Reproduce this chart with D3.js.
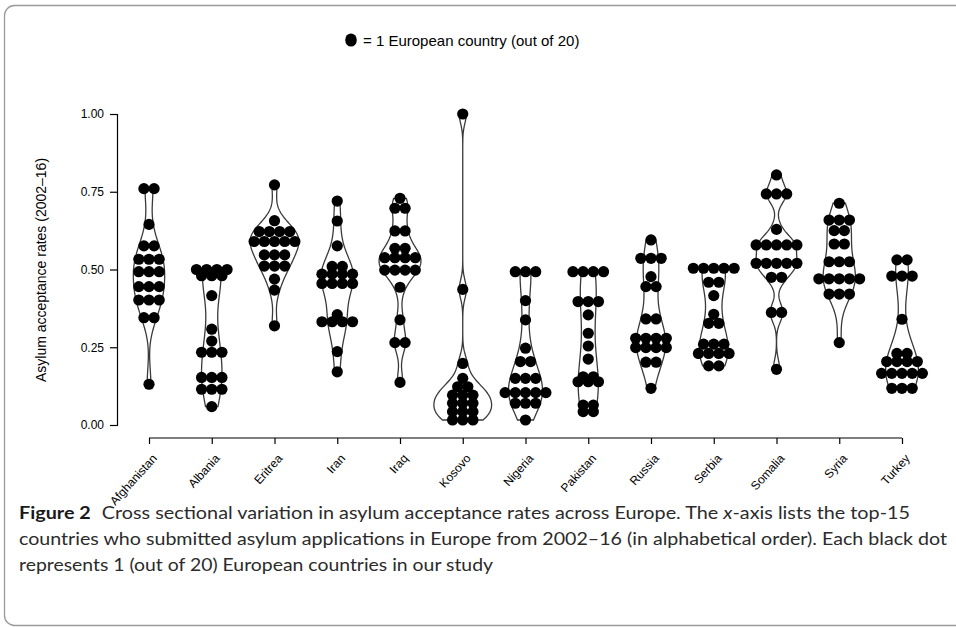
<!DOCTYPE html>
<html><head><meta charset="utf-8">
<script src="https://cdn.jsdelivr.net/npm/d3@7"></script>
<style>body{margin:0;background:#fff}svg{display:block}</style>
</head><body>
<svg id="chart" width="956" height="627"></svg>
<script>
const categories = ["Afghanistan","Albania","Eritrea","Iran","Iraq","Kosovo","Nigeria","Pakistan","Russia","Serbia","Somalia","Syria","Turkey"];
const afghanistan = [0.76,0.76,0.645,0.576,0.576,0.533,0.533,0.533,0.493,0.493,0.493,0.445,0.445,0.445,0.402,0.402,0.402,0.345,0.345,0.131];
const albania = [0.48,0.48,0.48,0.50,0.50,0.50,0.50,0.416,0.308,0.27,0.234,0.234,0.234,0.153,0.153,0.153,0.115,0.115,0.115,0.059];
const eritrea = [0.772,0.657,0.622,0.622,0.622,0.622,0.59,0.59,0.59,0.59,0.59,0.547,0.547,0.547,0.511,0.511,0.511,0.469,0.434,0.319];
const iran = [0.72,0.656,0.576,0.51,0.51,0.485,0.485,0.485,0.485,0.455,0.455,0.455,0.455,0.355,0.332,0.332,0.332,0.332,0.236,0.171];
const iraq = [0.729,0.697,0.697,0.624,0.624,0.568,0.568,0.538,0.538,0.538,0.538,0.498,0.498,0.498,0.498,0.443,0.338,0.265,0.265,0.137];
const kosovo = [1.0,0.436,0.198,0.15,0.123,0.123,0.096,0.096,0.096,0.07,0.07,0.07,0.043,0.043,0.043,0.016,0.016,0.016];
const nigeria = [0.493,0.493,0.493,0.4,0.338,0.247,0.204,0.204,0.15,0.15,0.15,0.104,0.104,0.104,0.104,0.104,0.07,0.07,0.07,0.016];
const pakistan = [0.493,0.493,0.493,0.493,0.397,0.397,0.397,0.354,0.295,0.254,0.212,0.155,0.155,0.139,0.139,0.139,0.064,0.064,0.043,0.043];
const russia = [0.595,0.536,0.536,0.536,0.477,0.445,0.445,0.341,0.341,0.279,0.279,0.279,0.279,0.249,0.249,0.249,0.249,0.202,0.202,0.118];
const serbia = [0.504,0.504,0.504,0.504,0.504,0.459,0.459,0.416,0.356,0.327,0.327,0.26,0.26,0.26,0.23,0.23,0.23,0.23,0.19,0.19];
const somalia = [0.804,0.743,0.743,0.743,0.629,0.579,0.579,0.579,0.579,0.579,0.52,0.52,0.52,0.52,0.52,0.475,0.475,0.362,0.362,0.179];
const syria = [0.713,0.659,0.659,0.659,0.625,0.625,0.582,0.582,0.525,0.525,0.525,0.47,0.47,0.47,0.47,0.47,0.421,0.421,0.421,0.265];
const turkey = [0.531,0.531,0.479,0.479,0.479,0.34,0.23,0.23,0.204,0.204,0.204,0.204,0.166,0.166,0.166,0.166,0.166,0.118,0.118,0.118];
const seriesValues = [afghanistan,albania,eritrea,iran,iraq,kosovo,nigeria,pakistan,russia,serbia,somalia,syria,turkey];
const yTicks = [0,0.25,0.5,0.75,1];

const svg = d3.select("#chart");
const FONT = "'Liberation Sans', Arial, Helvetica, sans-serif";

// frame
svg.append("rect").attr("x",4.5).attr("y",5.5).attr("width",1000).attr("height",620)
  .attr("rx",10).attr("fill","none").attr("stroke","#9a9a9a").attr("stroke-width",1.3);

const x = d3.scalePoint().domain(categories).range([149,902]);
const y = d3.scaleLinear().domain([0,1]).range([425,114]);
const step = x.step();

// KDE (gaussian, nrd0 bandwidth), trimmed to data range
function nrd0(v){
  const s = d3.deviation(v);
  const iqr = d3.quantile(v,0.75)-d3.quantile(v,0.25);
  let lo = Math.min(s, iqr/1.34);
  if(!(lo>0)) lo = s || Math.abs(v[0]) || 1;
  return 0.9*lo*Math.pow(v.length,-0.2);
}
const dens = seriesValues.map(v=>{
  const s = v.slice().sort(d3.ascending);
  const bw = nrd0(s);
  const lo = s[0], hi = s[s.length-1];
  const n = 200;
  return d3.range(n+1).map(i=>{
    const t = lo + (hi-lo)*i/n;
    const d = d3.mean(s, xi=>Math.exp(-0.5*((t-xi)/bw)**2))/(bw*Math.sqrt(2*Math.PI));
    return [t,d];
  });
});
const maxD = d3.max(dens, p=>d3.max(p, q=>q[1]));
const wScale = d3.scaleLinear().domain([0,maxD]).range([0, step*0.46]);

const gV = svg.append("g");
dens.forEach((pts,i)=>{
  const cx = x(categories[i]);
  const right = pts.map(p=>[cx+wScale(p[1]), y(p[0])]);
  const left = pts.slice().reverse().map(p=>[cx-wScale(p[1]), y(p[0])]);
  gV.append("path").attr("d", d3.line()(right.concat(left))+"Z")
    .attr("fill","none").attr("stroke","#3a3a3a").attr("stroke-width",1.3);
});

// dots (centered stacks)
const gD = svg.append("g");
const dotSp = 10.2, r = 5.6;
seriesValues.forEach((v,i)=>{
  const cx = x(categories[i]);
  d3.groups(v, d=>d).forEach(([val, arr])=>{
    arr.forEach((_,k)=>{
      gD.append("circle").attr("cx", cx + (k-(arr.length-1)/2)*dotSp).attr("cy", y(val))
        .attr("r", r).attr("fill","#000");
    });
  });
});

// y axis
const yAxis = svg.append("g").attr("transform","translate(117,0)")
  .call(d3.axisLeft(y).tickValues(yTicks).tickFormat(d3.format(".2f")).tickSizeOuter(0).tickSize(7).tickPadding(6));
yAxis.selectAll("path,line").attr("stroke","#000").attr("stroke-width",1.2);
yAxis.selectAll("text").attr("font-family",FONT).attr("font-size",12).attr("fill","#000");
svg.append("text").attr("transform","translate(46,270) rotate(-90)").attr("text-anchor","middle")
  .attr("font-family",FONT).attr("font-size",14).text("Asylum acceptance rates (2002–16)");

// x axis
const xAxis = svg.append("g").attr("transform","translate(0,438)")
  .call(d3.axisBottom(x).tickSizeOuter(0).tickSize(6));
xAxis.select("path").attr("d", `M${x.range()[0]},0H${x.range()[1]}`);
xAxis.selectAll("path,line").attr("stroke","#000").attr("stroke-width",1.2);
xAxis.selectAll("text").attr("font-family",FONT).attr("font-size",12).attr("fill","#000")
  .attr("text-anchor","end").attr("y",0).attr("dy","0.35em").attr("dx",0)
  .attr("transform","translate(5,18) rotate(-48)");

// legend
svg.append("ellipse").attr("cx",351).attr("cy",40).attr("rx",5.8).attr("ry",6.6).attr("fill","#000");
svg.append("text").attr("x",363).attr("y",45.5).attr("font-family",FONT).attr("font-size",15)
  .text("= 1 European country (out of 20)");

// caption
const CF = "Lato, 'Open Sans', sans-serif";
const c1 = svg.append("text").attr("x",19).attr("y",519).attr("font-family",CF).attr("font-size",16.5)
  .attr("fill","#2b2b2b").attr("textLength",891).attr("lengthAdjust","spacingAndGlyphs");
c1.append("tspan").attr("font-weight","bold").attr("fill","#1a1a1a").text("Figure 2");
c1.append("tspan").attr("dx",5).text(" Cross sectional variation in asylum acceptance rates across Europe. The ");
c1.append("tspan").attr("font-style","italic").text("x");
c1.append("tspan").text("-axis lists the top-15");
svg.append("text").attr("x",19).attr("y",545).attr("font-family",CF).attr("font-size",16.5)
  .attr("fill","#2b2b2b").attr("textLength",928).attr("lengthAdjust","spacingAndGlyphs")
  .text("countries who submitted asylum applications in Europe from 2002–16 (in alphabetical order). Each black dot");
svg.append("text").attr("x",19).attr("y",571).attr("font-family",CF).attr("font-size",16.5)
  .attr("fill","#2b2b2b").attr("textLength",474).attr("lengthAdjust","spacingAndGlyphs")
  .text("represents 1 (out of 20) European countries in our study");
</script>
</body></html>
